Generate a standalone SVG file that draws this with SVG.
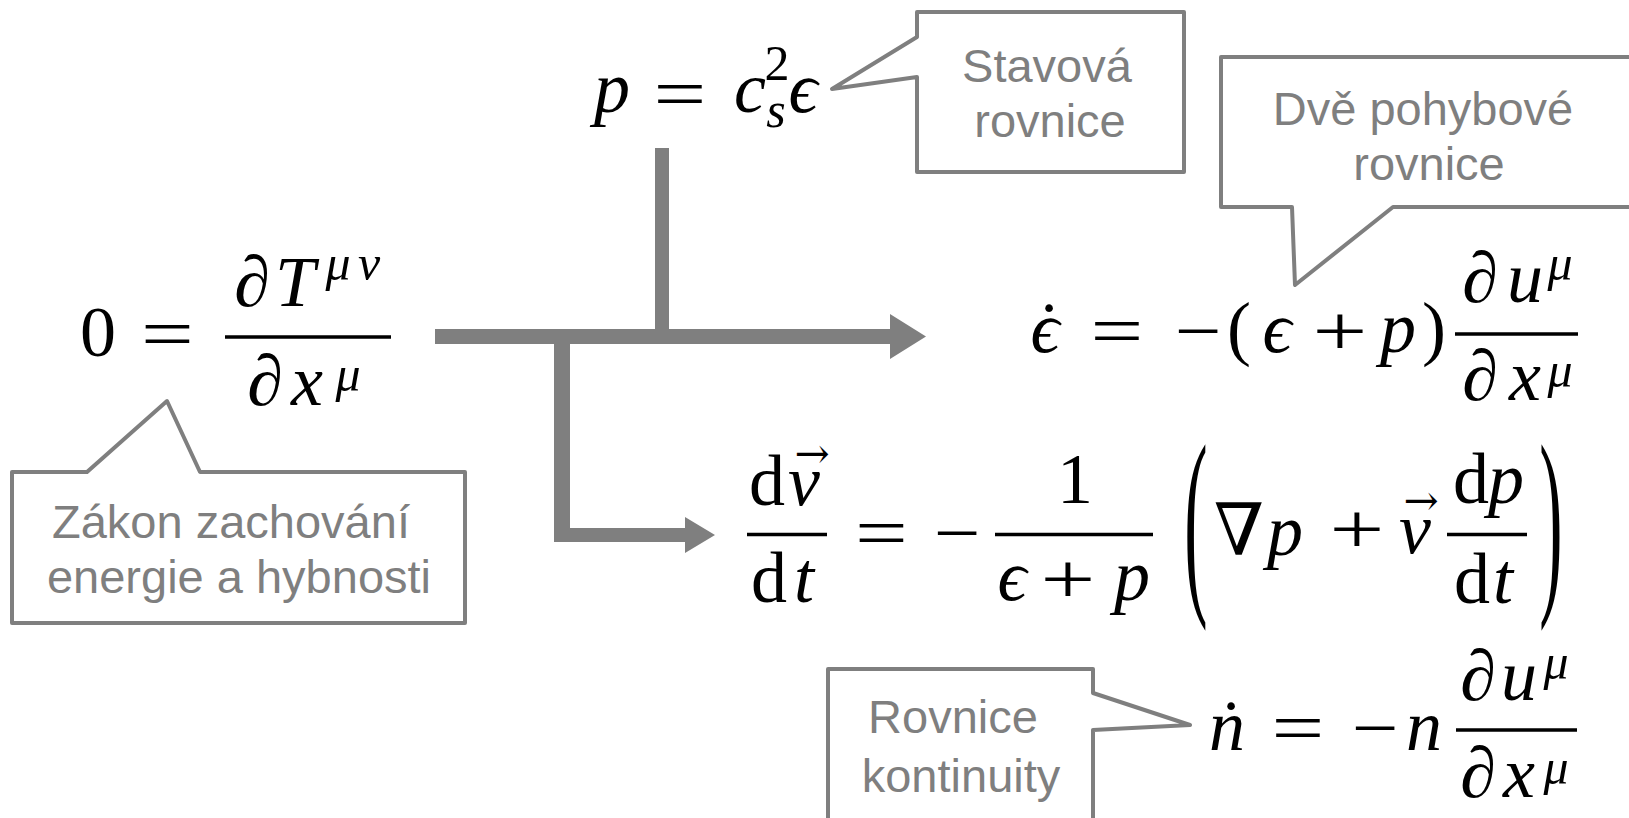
<svg xmlns="http://www.w3.org/2000/svg" width="1629" height="818" viewBox="0 0 1629 818">
<style>
.m{font-family:"Liberation Serif","DejaVu Serif",serif;font-size:72px;fill:#000;text-anchor:middle}
.i{font-style:italic}
.u{font-style:normal}
.s{font-size:50px}
.bar{stroke:#000;stroke-width:3.5}
.note{fill:#fff;stroke:#7f7f7f;stroke-width:4;stroke-linejoin:round}
.nt{font-family:"Liberation Sans",Arial,sans-serif;font-size:47px;fill:#7f7f7f;text-anchor:middle}
.conn{fill:#7f7f7f}
.arr{font-family:"DejaVu Serif",serif;font-size:42px;font-style:normal}
</style>
<rect width="1629" height="818" fill="#fff"/>

<g id="connectors">
<path class="conn" d="M435,329 H890 V314 L926,336.5 L890,359 V344 H435 Z"/>
<rect class="conn" x="655" y="148" width="14" height="185"/>
<path class="conn" d="M554,340 V542 H685 V553 L715,535 L685,517 V528 H570 V340 Z"/>
</g>

<g id="eq-state">
<text class="m i" x="612" y="112">p</text>
<text class="m" transform="translate(680,118) scale(1.3,1)">=</text>
<text class="m i" x="750" y="112">c<tspan class="s u" x="777" y="80">2</tspan><tspan class="s" x="776" y="127">s</tspan><tspan x="803" y="112">ϵ</tspan></text>
</g>

<g id="eq-conservation">
<text class="m" x="98" y="356">0</text>
<text class="m" transform="translate(167.5,358) scale(1.3,1)">=</text>
<line class="bar" x1="225" y1="337" x2="391" y2="337"/>
<text class="m" x="252" y="306">∂<tspan class="i" x="295">T</tspan><tspan class="i s" x="338" y="280">μ</tspan><tspan class="i s" x="369" y="280">ν</tspan></text>
<text class="m" x="265" y="405">∂<tspan class="i" x="307">x</tspan><tspan class="i s" x="348" y="391">μ</tspan></text>
</g>

<g id="eq-energy">
<text class="m i" x="1045" y="352">ϵ<tspan class="u" x="1049">˙</tspan></text>
<text class="m" transform="translate(1117,355) scale(1.3,1)">=</text>
<text class="m" transform="translate(1198,355) scale(1.15,1)">−</text>
<text class="m" x="1239" y="352">(<tspan class="i" x="1277">ϵ</tspan></text>
<text class="m" transform="translate(1340,355) scale(1.35,1)">+</text>
<text class="m i" x="1398" y="352">p<tspan class="u" x="1434">)</tspan></text>
<line class="bar" x1="1455" y1="334" x2="1578" y2="334"/>
<text class="m" x="1480" y="302">∂<tspan class="i" x="1525">u</tspan><tspan class="i s" x="1560" y="280">μ</tspan></text>
<text class="m" x="1480" y="400">∂<tspan class="i" x="1525">x</tspan><tspan class="i s" x="1560" y="387">μ</tspan></text>
</g>

<g id="eq-euler">
<text class="m" x="767" y="505">d<tspan class="i" x="804">v</tspan><tspan class="arr" x="812" y="468">→</tspan></text>
<line class="bar" x1="747" y1="534.5" x2="827" y2="534.5"/>
<text class="m" x="769" y="602">d<tspan class="i" x="804">t</tspan></text>
<text class="m" transform="translate(881.5,557) scale(1.3,1)">=</text>
<text class="m" transform="translate(957,557) scale(1.15,1)">−</text>
<line class="bar" x1="995" y1="534.5" x2="1153" y2="534.5"/>
<text class="m" x="1075" y="503">1</text>
<text class="m i" x="1012" y="600">ϵ</text>
<text class="m" transform="translate(1068,603) scale(1.35,1)">+</text>
<text class="m i" x="1132" y="600">p</text>
<text class="m" style="font-size:100px" transform="translate(1196,587) scale(0.7,2.05)">(</text>
<text class="m" x="1239" y="555">∇<tspan class="i" x="1285">p</tspan></text>
<text class="m" transform="translate(1357,553) scale(1.35,1)">+</text>
<text class="m i" x="1415" y="553">v<tspan class="arr" x="1421" y="515">→</tspan></text>
<line class="bar" x1="1447" y1="534.5" x2="1527" y2="534.5"/>
<text class="m" x="1471" y="503">d<tspan class="i" x="1506">p</tspan></text>
<text class="m" x="1472" y="603">d<tspan class="i" x="1503">t</tspan></text>
<text class="m" style="font-size:100px" transform="translate(1551,587) scale(0.7,2.05)">)</text>
</g>

<g id="eq-continuity">
<text class="m i" x="1227" y="750">n<tspan class="u" x="1231">˙</tspan></text>
<text class="m" transform="translate(1298,752) scale(1.3,1)">=</text>
<text class="m" transform="translate(1375,752) scale(1.15,1)">−</text>
<text class="m i" x="1424" y="750">n</text>
<line class="bar" x1="1456" y1="730" x2="1577" y2="730"/>
<text class="m" x="1478" y="700">∂<tspan class="i" x="1519">u</tspan><tspan class="i s" x="1556" y="679">μ</tspan></text>
<text class="m" x="1478" y="797">∂<tspan class="i" x="1519">x</tspan><tspan class="i s" x="1556" y="784">μ</tspan></text>
</g>

<g id="note-state">
<path class="note" d="M917,12 H1184 V172 H917 V77 L832,89 L917,37 Z"/>
<text class="nt" x="1047" y="82">Stavová</text>
<text class="nt" x="1050" y="137">rovnice</text>
</g>

<g id="note-motion">
<path class="note" d="M1221,57 H1631 V207 H1393 L1295,285 L1292,207 H1221 Z"/>
<text class="nt" x="1423" y="125">Dvě pohybové</text>
<text class="nt" x="1429" y="180">rovnice</text>
</g>

<g id="note-conservation">
<path class="note" d="M12,472 H87 L167,401 L200,472 H465 V623 H12 Z"/>
<text class="nt" x="231" y="538">Zákon zachování</text>
<text class="nt" x="239" y="593">energie a hybnosti</text>
</g>

<g id="note-continuity">
<path class="note" d="M828,669 H1093 V693 L1190,725 L1093,730 V832 H828 Z"/>
<text class="nt" x="953" y="733">Rovnice</text>
<text class="nt" x="961" y="792">kontinuity</text>
</g>
</svg>
